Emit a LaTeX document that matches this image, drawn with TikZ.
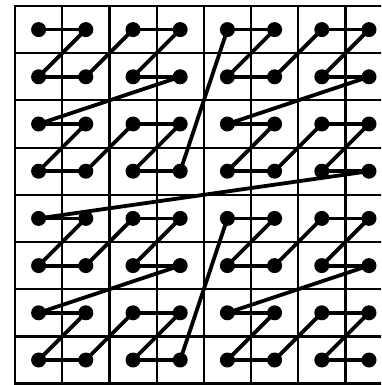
\documentclass[tikz,border=0pt]{standalone}
\begin{document}
\begin{tikzpicture}[x=1pt,y=-1pt,
  dot/.style={circle,fill=black,inner sep=0pt,minimum size=15pt},
  curve/.style={line width=3.8pt,line cap=round},
  gridline/.style={line width=2.2pt},
  border/.style={line width=2.8pt}]
\useasboundingbox (0,0) rectangle (381,385);
\begin{scope}
  \clip (0,0) rectangle (381,385);
  \foreach \i in {1,...,7} \draw[gridline] (15+47.2*\i,6) -- (15+47.2*\i,383.6);
  \foreach \j in {1,...,7} \draw[gridline] (15,6+47.2*\j) -- (395,6+47.2*\j);
  \draw[border] (395,6) -- (15,6) -- (15,383.6) -- (395,383.6);
\end{scope}
\foreach \i in {0,...,7}
  \foreach \j in {0,...,7}
    \node[dot] (d-\i-\j) at (38.6+47.2*\i, 29.6+47.2*\j) {};
\foreach \k in {1,...,63} {
  \pgfmathtruncatemacro\p{\k-1}
  \pgfmathtruncatemacro\xa{mod(\p,2)+2*mod(floor(\p/4),2)+4*mod(floor(\p/16),2)}
  \pgfmathtruncatemacro\ya{mod(floor(\p/2),2)+2*mod(floor(\p/8),2)+4*mod(floor(\p/32),2)}
  \pgfmathtruncatemacro\xb{mod(\k,2)+2*mod(floor(\k/4),2)+4*mod(floor(\k/16),2)}
  \pgfmathtruncatemacro\yb{mod(floor(\k/2),2)+2*mod(floor(\k/8),2)+4*mod(floor(\k/32),2)}
  \draw[curve] (d-\xa-\ya.center) -- (d-\xb-\yb.center);
}
\end{tikzpicture}
\end{document}
